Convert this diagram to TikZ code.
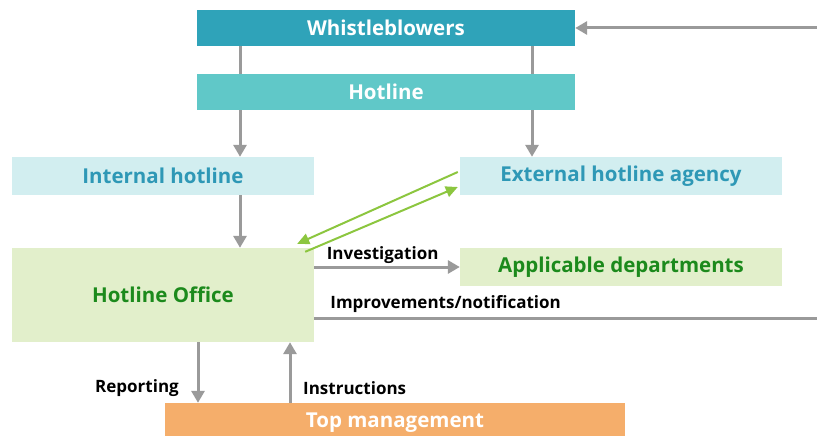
\documentclass[tikz,border=0pt]{standalone}
\usepackage{fontspec}
\setmainfont{Open Sans}
\usepackage{xcolor}
\usetikzlibrary{arrows.meta, positioning}
\definecolor{wbteal}{HTML}{2FA3B9}
\definecolor{hlteal}{HTML}{60C8C8}
\definecolor{paleblue}{HTML}{D2EEF0}
\definecolor{lineblue}{HTML}{2E98B6}
\definecolor{palegreen}{HTML}{E2EFCB}
\definecolor{deepgreen}{HTML}{1C8A1C}
\definecolor{mgmtorange}{HTML}{F5AE6B}
\definecolor{arrowgray}{HTML}{9A9A9A}
\definecolor{limegreen}{HTML}{8CC63F}
\tikzset{
  topbox/.style={rectangle, inner sep=0pt, text=white, font=\fontsize{20.5}{24}\selectfont\bfseries},
  chanbox/.style={rectangle, inner sep=0pt, fill=paleblue, text=lineblue, minimum height=38pt, font=\fontsize{20.5}{24}\selectfont\bfseries},
  deptbox/.style={rectangle, inner sep=0pt, fill=palegreen, text=deepgreen, font=\fontsize{20.5}{24}\selectfont\bfseries},
  flowlabel/.style={inner sep=0pt, font=\fontsize{17}{20}\selectfont\bfseries},
  grayarrow/.style={draw=arrowgray, line width=3pt, -{Triangle[width=13pt,length=12pt]}},
  grayline/.style={draw=arrowgray, line width=3pt},
  greenarrow/.style={draw=limegreen, line width=2pt, -{Triangle[width=11pt,length=12pt]}}
}
\begin{document}
\begin{tikzpicture}[x=1pt, y=-1pt]
\useasboundingbox (0,0) rectangle (817,436);
% boxes
\node[topbox, fill=wbteal, minimum width=378pt, minimum height=36pt] (whistle) at (386,28) {Whistleblowers};
\node[topbox, fill=hlteal, minimum width=378pt, minimum height=36pt] (hotline) at (386,92) {Hotline};
\node[chanbox, minimum width=302pt] (internal) at (163,176) {Internal hotline};
\node[chanbox, minimum width=322pt] (external) at (621,176) {External hotline agency};
\node[deptbox, minimum width=302pt, minimum height=94pt] (office) at (163,295) {Hotline Office};
\node[deptbox, minimum width=322pt, minimum height=38pt] (depts) at (621,267) {Applicable departments};
\node[topbox, fill=mgmtorange, minimum width=460pt, minimum height=40pt] (topmgmt) at (395,423) {Top management};
% helper points
\coordinate (lx) at (240,0);
\coordinate (rx) at (532,0);
\coordinate (rin) at (817,28);
\coordinate (rout) at (817,318);
% connectors
\draw[grayline] (whistle.south -| lx) -- (hotline.north -| lx);
\draw[grayline] (whistle.south -| rx) -- (hotline.north -| rx);
\draw[grayarrow] (hotline.south -| lx) -- (internal.north -| lx);
\draw[grayarrow] (hotline.south -| rx) -- (external.north -| rx);
\draw[grayarrow] (internal.south -| lx) -- (office.north -| lx);
\draw[grayarrow] (rin) -- (whistle.east |- rin);
\draw[greenarrow] ([xshift=-2pt, yshift=4pt]external.west) -- ([xshift=-17pt, yshift=4pt]office.north east);
\draw[greenarrow] ([xshift=-9pt, yshift=-4pt]office.north east) -- ([xshift=-2pt, yshift=-11pt]external.west);
\draw[grayarrow] (office.east |- depts) -- node[flowlabel, above=2pt, pos=0.47] (invlbl) {Investigation} (depts.west);
\draw[grayline] (office.east |- rout) -- (rout);
\node[flowlabel, anchor=south west] (implbl) at ([xshift=16pt, yshift=5pt]office.east |- rout) {Improvements/notification};
\draw[grayarrow] (office.south -| 198,0) -- (topmgmt.north -| 198,0);
\draw[grayarrow] (topmgmt.north -| 290,0) -- (office.south -| 290,0);
\node[flowlabel, anchor=east] (replbl) at (179,388) {Reporting};
\node[flowlabel, anchor=west] (inslbl) at (303,388) {Instructions};
\end{tikzpicture}
\end{document}
